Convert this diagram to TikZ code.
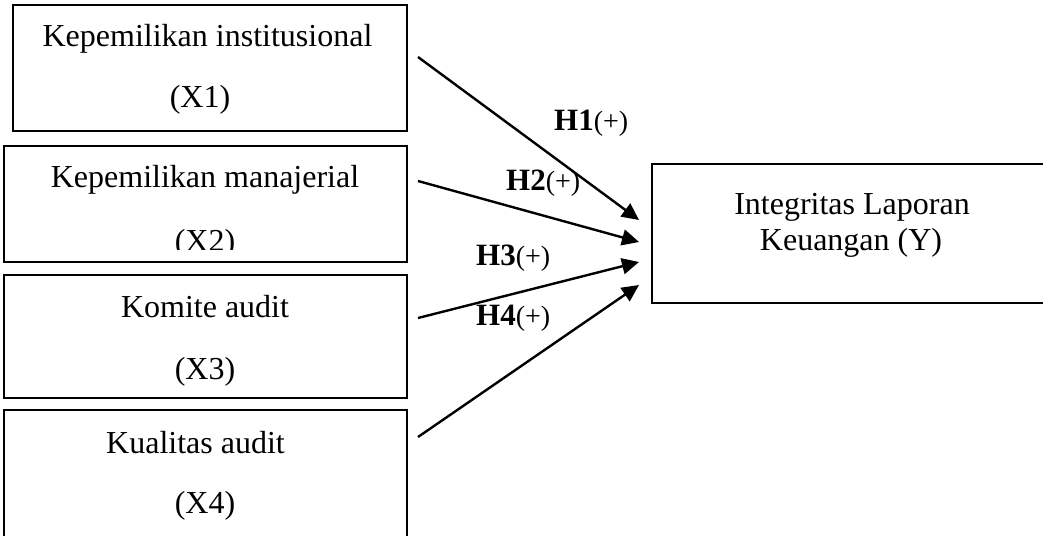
\documentclass[tikz,border=0pt]{standalone}
\usepackage{fontspec}
\setmainfont{Liberation Serif}
\usetikzlibrary{arrows.meta}
\begin{document}
\begin{tikzpicture}[x=1pt,y=-1pt,
  boxstyle/.style={draw=black,line width=2.2pt,rectangle,inner sep=0pt},
  txt/.style={anchor=base,inner sep=0pt,font=\fontsize{32}{36}\selectfont},
  hlab/.style={anchor=base west,inner sep=0pt,font=\fontsize{31}{36}\selectfont\bfseries},
  conn/.style={line width=2.4pt,-{Triangle[length=17pt,width=16pt]}}]
\useasboundingbox (0,0) rectangle (1043,535);
\clip (0,0) rectangle (1043,535);
% boxes
\node[boxstyle,minimum width=394pt,minimum height=126pt] (b1) at (210,68) {};
\node[boxstyle,minimum width=403pt,minimum height=116pt] (b2) at (205.5,204) {};
\node[boxstyle,minimum width=403pt,minimum height=123pt] (b3) at (205.5,336.5) {};
\node[boxstyle,minimum width=403pt,minimum height=150pt] (b4) at (205.5,485) {};
\node[boxstyle,minimum width=400pt,minimum height=139pt] (y) at (852,233.5) {};
% texts
\node[txt] (t1a) at (207.5,47) {Kepemilikan institusional};
\node[txt] (t1b) at (200,107) {(X1)};
\node[txt] (t2a) at (205,187) {Kepemilikan manajerial};
\begin{scope}
\clip (0,0) rectangle (1043,249);
\node[txt] (t2b) at (205,251) {(X2)};
\end{scope}
\node[txt] (t3a) at (205,317) {Komite audit};
\node[txt] (t3b) at (205,379) {(X3)};
\node[txt] (t4a) at (195.5,453) {Kualitas audit};
\node[txt] (t4b) at (205,513) {(X4)};
\node[txt] (ya) at (852,214) {Integritas Laporan};
\node[txt] (yb) at (851,250) {Keuangan (Y)};
% connectors
\coordinate (s1) at (418,57);
\coordinate (s2) at (418,181);
\coordinate (s3) at (418,318);
\coordinate (s4) at (418,437);
\coordinate (e1) at (639,220);
\coordinate (e2) at (639,242);
\coordinate (e3) at (639,262);
\coordinate (e4) at (639,285);
\draw[conn] (s1) -- (e1);
\draw[conn] (s2) -- (e2);
\draw[conn] (s3) -- (e3);
\draw[conn] (s4) -- (e4);
% labels
\node[hlab] (h1) at (554,130) {H1\fontsize{28}{30}\selectfont\mdseries(+)};
\node[hlab] (h2) at (506,190) {H2\fontsize{28}{30}\selectfont\mdseries(+)};
\node[hlab] (h3) at (476,265) {H3\fontsize{28}{30}\selectfont\mdseries(+)};
\node[hlab] (h4) at (476,325) {H4\fontsize{28}{30}\selectfont\mdseries(+)};
\end{tikzpicture}
\end{document}
